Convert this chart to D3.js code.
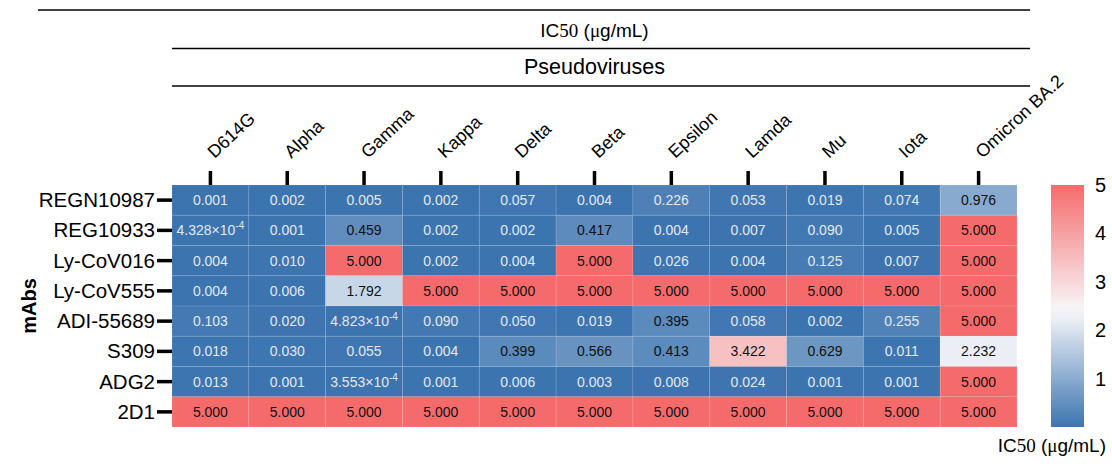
<!DOCTYPE html>
<html>
<head>
<meta charset="utf-8">
<script src="https://cdn.jsdelivr.net/npm/d3@7"></script>
<style>
  body { margin: 0; background: #fff; }
  text { font-family: "Liberation Sans", Arial, sans-serif; }
</style>
</head>
<body>
<div id="chart"></div>
<script>
// data
const viruses = ["D614G", "Alpha", "Gamma", "Kappa", "Delta", "Beta", "Epsilon", "Lamda", "Mu", "Iota", "Omicron BA.2"];
const mAbs = ["REGN10987", "REG10933", "Ly-CoV016", "Ly-CoV555", "ADI-55689", "S309", "ADG2", "2D1"];
const ic50 = [
    [0.001, 0.002, 0.005, 0.002, 0.057, 0.004, 0.226, 0.053, 0.019, 0.074, 0.976],
    [4.328e-4, 0.001, 0.459, 0.002, 0.002, 0.417, 0.004, 0.007, 0.090, 0.005, 5.000],
    [0.004, 0.010, 5.000, 0.002, 0.004, 5.000, 0.026, 0.004, 0.125, 0.007, 5.000],
    [0.004, 0.006, 1.792, 5.000, 5.000, 5.000, 5.000, 5.000, 5.000, 5.000, 5.000],
    [0.103, 0.020, 4.823e-4, 0.090, 0.050, 0.019, 0.395, 0.058, 0.002, 0.255, 5.000],
    [0.018, 0.030, 0.055, 0.004, 0.399, 0.566, 0.413, 3.422, 0.629, 0.011, 2.232],
    [0.013, 0.001, 3.553e-4, 0.001, 0.006, 0.003, 0.008, 0.024, 0.001, 0.001, 5.000],
    [5.000, 5.000, 5.000, 5.000, 5.000, 5.000, 5.000, 5.000, 5.000, 5.000, 5.000]
];
const legendTicks = [1, 2, 3, 4, 5];

const width = 1112, height = 464;
const pLeft = 172, pRight = 1017, pTop = 185, pBottom = 427;

const svg = d3.select("#chart").append("svg")
    .attr("width", width)
    .attr("height", height);

const x = d3.scaleBand().domain(viruses).range([pLeft, pRight]);
const y = d3.scaleBand().domain(mAbs).range([pTop, pBottom]);
const color = d3.scaleLinear()
    .domain([0, 2.4, 5])
    .range(["#3c74b0", "#f8f8fa", "#f56b6b"]);

// cells
const cells = [];
mAbs.forEach((m, i) => viruses.forEach((v, j) => cells.push({m, v, val: ic50[i][j]})));

const cellG = svg.append("g");
cellG.selectAll("rect")
    .data(cells)
    .enter()
    .append("rect")
    .attr("x", d => x(d.v))
    .attr("y", d => y(d.m))
    .attr("width", x.bandwidth())
    .attr("height", y.bandwidth())
    .attr("fill", d => color(d.val))
    .attr("stroke", "rgba(255,255,255,0.1)")
    .attr("stroke-width", 1);

const labels = cellG.selectAll("text")
    .data(cells)
    .enter()
    .append("text")
    .attr("x", d => x(d.v) + x.bandwidth() / 2)
    .attr("y", d => y(d.m) + y.bandwidth() / 2 + 5)
    .attr("text-anchor", "middle")
    .style("font-size", "14px")
    .attr("fill", d => d.val < 0.3 ? "#e3e9f1" : "#111");

labels.each(function (d) {
    const t = d3.select(this);
    if (d.val < 0.001) {
        const e = Math.floor(Math.log10(d.val));
        const mant = (d.val / Math.pow(10, e)).toFixed(3);
        t.append("tspan").text(mant + "×10");
        t.append("tspan").attr("dy", -6).style("font-size", "10px").text(e);
    } else {
        t.text(d.val.toFixed(3));
    }
});

// column ticks + labels
const colG = svg.append("g");
colG.selectAll("line")
    .data(viruses)
    .enter()
    .append("line")
    .attr("x1", d => x(d) + x.bandwidth() / 2)
    .attr("x2", d => x(d) + x.bandwidth() / 2)
    .attr("y1", 171)
    .attr("y2", pTop)
    .attr("stroke", "#000")
    .attr("stroke-width", 3.5);

colG.selectAll("text")
    .data(viruses)
    .enter()
    .append("text")
    .attr("transform", d => `translate(${x(d) + x.bandwidth() / 2 + 4}, 159) rotate(-43)`)
    .style("font-size", "18px")
    .text(d => d);

// row ticks + labels
const rowG = svg.append("g");
rowG.selectAll("line")
    .data(mAbs)
    .enter()
    .append("line")
    .attr("x1", 157)
    .attr("x2", pLeft)
    .attr("y1", d => y(d) + y.bandwidth() / 2)
    .attr("y2", d => y(d) + y.bandwidth() / 2)
    .attr("stroke", "#000")
    .attr("stroke-width", 3.5);

rowG.selectAll("text")
    .data(mAbs)
    .enter()
    .append("text")
    .attr("x", 155)
    .attr("y", d => y(d) + y.bandwidth() / 2 + 7)
    .attr("text-anchor", "end")
    .style("font-size", "20.5px")
    .text(d => d);

svg.append("text")
    .attr("transform", `translate(36, 306) rotate(-90)`)
    .attr("text-anchor", "middle")
    .style("font-size", "20px")
    .style("font-weight", "bold")
    .text("mAbs");

// header lines
const hdr = svg.append("g").attr("stroke", "#000").attr("stroke-width", 1.5);
hdr.append("line").attr("x1", 38).attr("x2", 1030).attr("y1", 10).attr("y2", 10);
hdr.append("line").attr("x1", pLeft).attr("x2", 1030).attr("y1", 48.5).attr("y2", 48.5);
hdr.append("line").attr("x1", pLeft).attr("x2", 1030).attr("y1", 86).attr("y2", 86);

function ic50Label(sel) {
    sel.append("tspan").text("IC");
    sel.append("tspan").style("font-family", "'Liberation Serif', 'Times New Roman', serif").text("50");
    sel.append("tspan").text(" (");
    sel.append("tspan").style("font-family", "'Liberation Serif', 'Times New Roman', serif").text("μ");
    sel.append("tspan").text("g/mL)");
}

svg.append("text")
    .attr("x", (pLeft + pRight) / 2)
    .attr("y", 37)
    .attr("text-anchor", "middle")
    .style("font-size", "19px")
    .call(ic50Label);

svg.append("text")
    .attr("x", (pLeft + pRight) / 2)
    .attr("y", 74)
    .attr("text-anchor", "middle")
    .style("font-size", "21.5px")
    .text("Pseudoviruses");

// colour bar
const defs = svg.append("defs");
const grad = defs.append("linearGradient")
    .attr("id", "cbar")
    .attr("x1", 0).attr("y1", 1).attr("x2", 0).attr("y2", 0);
d3.range(0, 5.01, 0.25).forEach(v => {
    grad.append("stop").attr("offset", v / 5).attr("stop-color", color(v));
});

const ly = d3.scaleLinear().domain([0, 5]).range([pBottom, pTop]);
svg.append("rect")
    .attr("x", 1051)
    .attr("y", ly(5))
    .attr("width", 33)
    .attr("height", ly(0) - ly(5))
    .attr("fill", "url(#cbar)");

const legAxis = d3.axisRight(ly).tickValues(legendTicks).tickFormat(d3.format("d")).tickSize(0).tickPadding(11);
const legG = svg.append("g")
    .attr("transform", "translate(1084,0)")
    .call(legAxis);
legG.select(".domain").remove();
legG.selectAll("text").style("font-size", "20px").style("font-family", "'Liberation Sans', Arial, sans-serif");

svg.append("text")
    .attr("x", 1106)
    .attr("y", 452)
    .attr("text-anchor", "end")
    .style("font-size", "19px")
    .call(ic50Label);
</script>
</body>
</html>
